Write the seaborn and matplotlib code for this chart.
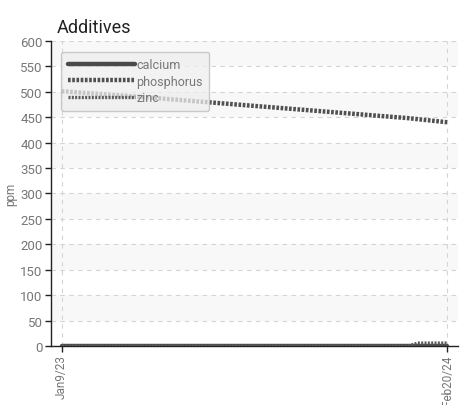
import pandas as pd
import numpy as np
import matplotlib
matplotlib.use("Agg")
import matplotlib.pyplot as plt
import seaborn as sns

# data
dates = pd.to_datetime(["2023-01-09", "2023-04-15", "2023-08-01", "2024-01-10", "2024-01-20", "2024-02-20"])
calcium = [0, 0, 0, 0, 0, 0]
phosphorus = [501, 488, 472, 448, 446, 440]
zinc = [0, 0, 0, 0, 6, 6]
tick_labels = ["Jan9/23", "Feb20/24"]

df = pd.DataFrame({"date": dates, "calcium": calcium, "phosphorus": phosphorus, "zinc": zinc})
long = df.melt(id_vars="date", var_name="additive", value_name="ppm")

sns.set_style("white")
plt.rcParams["font.family"] = ["Roboto", "DejaVu Sans"]

fig = plt.figure(figsize=(4.72, 4.06), dpi=100)
ax = fig.add_axes([0.108, 0.145, 0.862, 0.752])

# alternating bands
for lo in range(50, 600, 100):
    ax.axhspan(lo, lo + 50, color="#f8f8f8", zorder=0, lw=0)

styles = {"calcium": dict(color="#4a4a4a", lw=3.2, ls="-"),
          "phosphorus": dict(color="#505050", lw=3.2, ls=(0, (0.6, 0.35))),
          "zinc": dict(color="#5a5a5a", lw=2.4, ls=(0, (0.6, 0.4)))}
for name in ["calcium", "phosphorus", "zinc"]:
    sub = long[long["additive"] == name]
    sns.lineplot(data=sub, x="date", y="ppm", ax=ax, label=name, zorder=3, **styles[name])

pad = pd.Timedelta(days=11.3)
ax.set_xlim(dates[0] - pad, dates[-1] + pad)
ax.set_ylim(0, 600)
ax.set_yticks(range(0, 601, 50))
ax.set_xticks([dates[0], dates[-1]])
ax.set_xticklabels(tick_labels, rotation=90)

ax.grid(True, ls=(0, (4, 4)), color="#d4d4d4", lw=0.8)
ax.set_axisbelow(True)
for s in ["top", "right"]:
    ax.spines[s].set_visible(False)
for s in ["left", "bottom"]:
    ax.spines[s].set_color("#222222")
    ax.spines[s].set_linewidth(1.0)
ax.tick_params(axis="both", direction="out", length=4, width=1, color="#222222",
               labelcolor="#777777", labelsize=9.5, left=True, bottom=True, pad=2)
ax.tick_params(axis="x", labelsize=8.5)

ax.set_xlabel("")
ax.set_ylabel("ppm", color="#777777", fontsize=8.5, labelpad=2)
ax.set_title("Additives", loc="left", fontsize=13, color="#222222", pad=6, x=0.013)

leg = ax.legend(loc="upper left", bbox_to_anchor=(0.01, 0.985), handlelength=5.4,
                handletextpad=0.1, labelspacing=0.3, fontsize=9, frameon=True,
                fancybox=True, borderpad=0.5)
leg.get_frame().set_facecolor("#eeeeee")
leg.get_frame().set_alpha(0.75)
leg.get_frame().set_edgecolor("#bbbbbb")
for t in leg.get_texts():
    t.set_color("#777777")

fig.savefig("out.png", dpi=100)
